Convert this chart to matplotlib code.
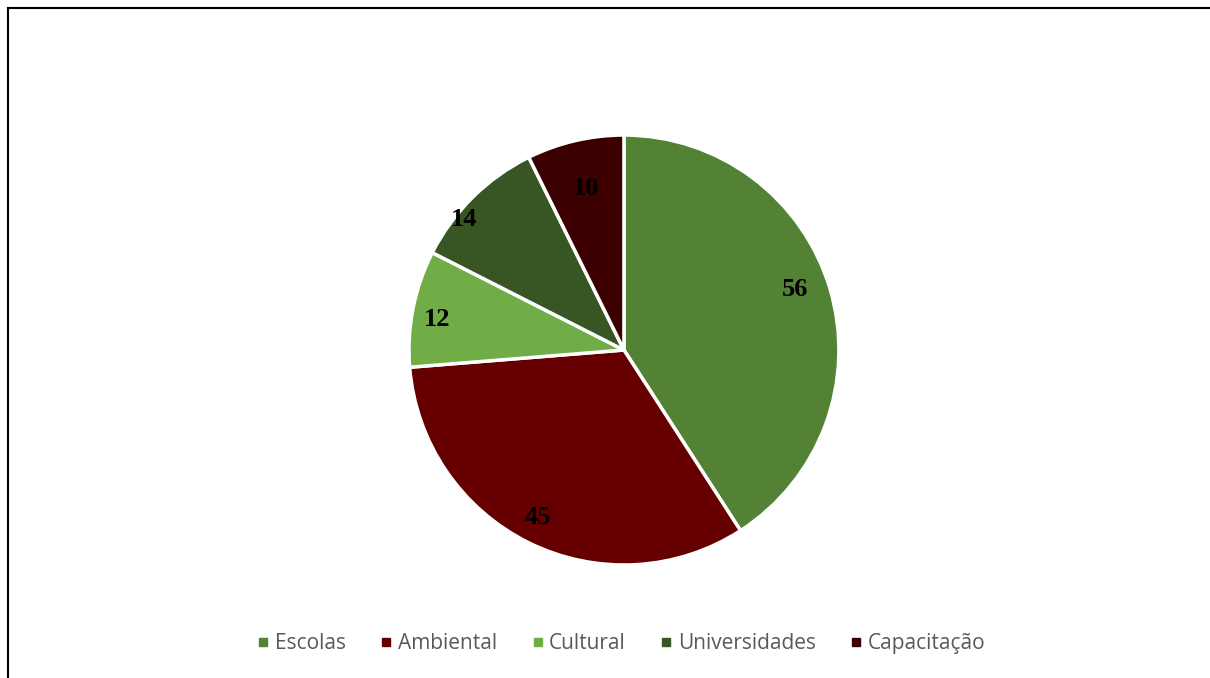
import numpy as np
import matplotlib.pyplot as plt
from matplotlib.lines import Line2D

categorias = ["Escolas", "Ambiental", "Cultural", "Universidades", "Capacitação"]
valores = [56, 45, 12, 14, 10]
cores = ["#548235", "#660000", "#70AD47", "#375623", "#3D0000"]

# posicao de cada rotulo: fracao do raio e desvio angular (graus)
dist_rotulo = [0.845, 0.875, 0.88, 0.96, 0.77]
desvio_ang = [3, -1, 2, 6, 0]

fig = plt.figure(figsize=(12.1, 6.78), dpi=100)
ax = fig.add_axes([0.3291, 0.1508, 0.3731, 0.6659])

wedges, _ = ax.pie(valores, colors=cores, startangle=90, counterclock=False,
                   wedgeprops=dict(edgecolor="white", linewidth=2.5))

for w, v, d, da in zip(wedges, valores, dist_rotulo, desvio_ang):
    ang = np.deg2rad((w.theta1 + w.theta2) / 2 + da)
    ax.text(d * np.cos(ang), d * np.sin(ang), str(v), ha="center", va="center",
            fontsize=19, fontweight="bold", family="Liberation Serif", color="black")

ax.set_xlim(-1.05, 1.05)
ax.set_ylim(-1.05, 1.05)
ax.set_aspect("equal")
ax.axis("off")

# legenda
handles = [Line2D([], [], marker="s", linestyle="none", markersize=6,
                  markerfacecolor=c, markeredgecolor=c) for c in cores]
fig.legend(handles, categorias, loc="center", bbox_to_anchor=(0.513, 0.051),
           ncol=5, frameon=False, handlelength=0.7, handletextpad=0.2,
           columnspacing=1.6, labelcolor="#595959",
           prop={"family": "Open Sans", "size": 15})

# moldura (so topo e esquerda visiveis)
fig.add_artist(Line2D([8 / 1210, 1], [1 - 8 / 678, 1 - 8 / 678], color="black", lw=1.5))
fig.add_artist(Line2D([8 / 1210, 8 / 1210], [0, 1 - 8 / 678], color="black", lw=1.5))

fig.savefig("out.png", dpi=100)
